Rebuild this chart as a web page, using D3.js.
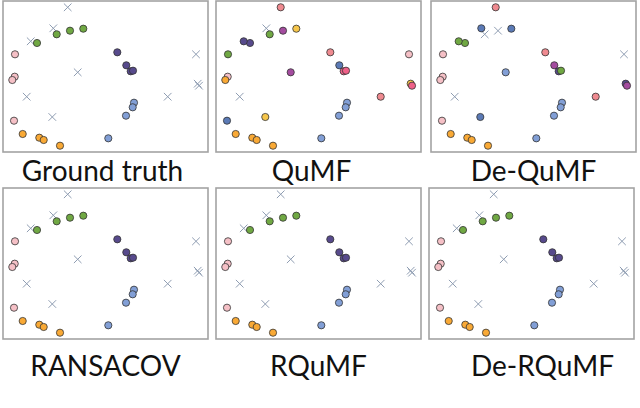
<!DOCTYPE html>
<html>
<head>
<meta charset="utf-8">
<script src="https://cdn.jsdelivr.net/npm/d3@7"></script>
<style>
  body { margin: 0; background: #fff; }
  svg { display: block; }
</style>
</head>
<body>
<svg id="chart" width="640" height="408"></svg>
<script>
// method names (one panel each)
var methods = ["Ground truth", "QuMF", "De-QuMF", "RANSACOV", "RQuMF", "De-RQuMF"];

// point coordinates, shared by all panels
var pointX = [53.7, 67, 80.3, 34,
              12, 11.7, 9.3, 11,
              19.7, 36.3, 40.7, 57,
              114.3, 123.3, 127.7, 130,
              131, 129.7, 123, 105.3,
              64.7, 50.3, 27.7, 74.7, 23.7, 49.3, 193, 194.7, 196, 164.7];
var pointY = [33.3, 29.7, 27.7, 42,
              53.3, 75.7, 79, 119.7,
              133, 136.7, 139, 144.7,
              51.3, 64.3, 70.3, 69.7,
              101.7, 106.3, 114.7, 137.3,
              6.3, 27.3, 40.3, 71.3, 95.7, 116, 53.3, 82.7, 84.7, 95.7];

// cluster labels per method, "x" = outlier
var gtLabels = ["green","green","green","green",
                "lpink","lpink","lpink","lpink",
                "orange","orange","orange","orange",
                "purple","purple","purple","purple",
                "lblue","lblue","lblue","lblue",
                "x","x","x","x","x","x","x","x","x","x"];
var qumfLabels = ["green","magenta","yellow","purple",
                  "green","lpink","orange","mblue",
                  "orange","orange","orange","orange",
                  "salmon","mblue","hpink","hpink",
                  "lblue","lblue","lblue","lblue",
                  "salmon","x","purple","magenta","x","yellow","lpink","yellow","hpink","salmon"];
var deQumfLabels = ["x","x","mblue","green",
                    "lpink","lpink","lpink","lpink",
                    "orange","orange","orange","orange",
                    "salmon","magenta","purple","green",
                    "lblue","lblue","lblue","lblue",
                    "salmon","mblue","green","lblue","x","mblue","x","purple","magenta","salmon"];
var ransacovLabels = gtLabels.slice();
var rqumfLabels = gtLabels.slice();
var deRqumfLabels = gtLabels.slice();
var labelSets = [gtLabels, qumfLabels, deQumfLabels, ransacovLabels, rqumfLabels, deRqumfLabels];

var colors = {
  green: "#70a843", lpink: "#f5c0c6", orange: "#f9a935", purple: "#574a8c",
  lblue: "#829fd6", salmon: "#ef8a90", magenta: "#a44c9f", yellow: "#f6c64b",
  mblue: "#5b7ab6", hpink: "#ef6088"
};

var svg = d3.select("#chart");

// panel boxes
var panelX = [3, 216, 431, 3, 216, 429];
var panelY = [1, 1, 1, 188, 188, 188];
var titleDx = [-3, -7, 0, 0, 0, 11];
var pw = 205, ph = 151;

var x = d3.scaleLinear().domain([0, 205]).range([0, pw]);
var y = d3.scaleLinear().domain([0, 151]).range([0, ph]);

methods.forEach(function(name, i) {
  var g = svg.append("g")
    .attr("transform", "translate(" + panelX[i] + "," + panelY[i] + ")");

  g.append("rect")
    .attr("width", pw).attr("height", ph)
    .attr("fill", "#fff")
    .attr("stroke", "#a3a3a3")
    .attr("stroke-width", 1.6);

  var pts = pointX.map(function(v, k) {
    return { x: pointX[k], y: pointY[k], lab: labelSets[i][k] };
  });

  // outliers as crosses
  var s = 3.8;
  g.selectAll(".cross")
    .data(pts.filter(function(d) { return d.lab === "x"; }))
    .enter().append("path")
    .attr("class", "cross")
    .attr("d", function(d) {
      var cx = x(d.x), cy = y(d.y);
      return "M" + (cx - s) + "," + (cy - s) + "L" + (cx + s) + "," + (cy + s) +
             "M" + (cx - s) + "," + (cy + s) + "L" + (cx + s) + "," + (cy - s);
    })
    .attr("stroke", "#8f9db2")
    .attr("stroke-width", 1)
    .attr("fill", "none");

  g.selectAll(".dot")
    .data(pts.filter(function(d) { return d.lab !== "x"; }))
    .enter().append("circle")
    .attr("class", "dot")
    .attr("cx", function(d) { return x(d.x); })
    .attr("cy", function(d) { return y(d.y); })
    .attr("r", 3.6)
    .attr("fill", function(d) { return colors[d.lab]; })
    .attr("stroke", "#333")
    .attr("stroke-width", 0.8);

  svg.append("text")
    .attr("x", panelX[i] + pw / 2 + titleDx[i])
    .attr("y", panelY[i] + ph + (i >= 3 ? 37 : 29))
    .attr("text-anchor", "middle")
    .style("font-family", "Lato, 'Open Sans', sans-serif")
    .style("font-size", "28px")
    .style("fill", "#111")
    .text(name);
});
</script>
</body>
</html>
